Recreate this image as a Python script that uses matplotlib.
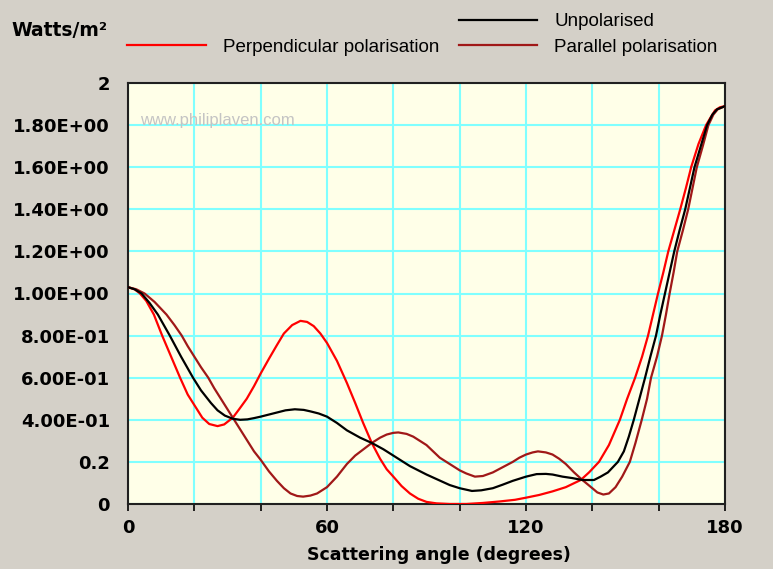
import matplotlib
matplotlib.use("Agg")
import matplotlib.pyplot as plt
from matplotlib.lines import Line2D

# ---- data ----
perp_angle = [0, 2, 3.6, 5.5, 7.8, 10.3, 13, 15.7, 18, 20, 22.4, 24.5, 27, 29, 31.6, 33.5, 35.8,
              38, 40, 42.5, 44.9, 47, 49.5, 52, 54, 56, 58, 60, 63, 66, 68.5, 70.9, 73.5, 76,
              78, 80, 82.5, 85, 87.5, 90, 93, 97, 102, 107, 112, 116.7, 120, 124, 128, 132,
              136.5, 139, 142, 145, 148.3, 150.5, 152.9, 155, 156.8, 158.3, 159.8, 161.4,
              162.9, 164.7, 166.5, 168.2, 169.8, 172, 174.3, 175.8, 177, 178.5, 180]
perp_value = [1.03, 1.02, 1.0, 0.965, 0.9, 0.8, 0.7, 0.6, 0.52, 0.47, 0.41, 0.38, 0.37, 0.378, 0.41, 0.45, 0.5,
              0.56, 0.62, 0.69, 0.755, 0.81, 0.85, 0.87, 0.865, 0.845, 0.81, 0.765, 0.68, 0.575, 0.48, 0.385, 0.29, 0.215,
              0.165, 0.13, 0.085, 0.05, 0.025, 0.01, 0.003, 0.0, 0.0, 0.005, 0.012, 0.02, 0.03, 0.043, 0.06, 0.08,
              0.114, 0.15, 0.2, 0.28, 0.4, 0.5, 0.6, 0.7, 0.8, 0.9, 1.0, 1.1,
              1.2, 1.3, 1.4, 1.5, 1.6, 1.71, 1.8, 1.84, 1.87, 1.885, 1.89]

par_angle = [0, 2.5, 5, 8, 11.6, 14, 16.2, 18, 20, 22, 24.2, 26, 28, 30, 31.6, 34, 36, 38, 40,
             42.5, 44.9, 47, 49, 51, 52.8, 55, 57, 60, 63, 66, 68.5, 71, 73.5, 76, 78, 80, 81.5,
             84, 86, 88, 90, 92, 94, 97, 100, 102, 104.6, 107, 110, 113, 116, 118, 120, 122,
             123.6, 126, 128, 130, 132, 134.5, 137, 140, 141.5, 143.3, 145, 147, 149, 151.3,
             153, 154.9, 156.5, 157.7, 159.5, 161, 162.2, 163.3, 164.5, 165.6, 167.3, 168.9,
             170.2, 171.5, 173.3, 175, 176.5, 177.8, 180]
par_value = [1.03, 1.02, 1.0, 0.96, 0.9, 0.85, 0.8, 0.75, 0.70, 0.65, 0.6, 0.55, 0.50, 0.45, 0.41, 0.35, 0.30, 0.25, 0.21,
             0.155, 0.11, 0.075, 0.05, 0.038, 0.035, 0.04, 0.05, 0.08, 0.13, 0.19, 0.23, 0.26, 0.29, 0.315, 0.33, 0.338, 0.34,
             0.333, 0.32, 0.30, 0.28, 0.25, 0.22, 0.19, 0.16, 0.145, 0.13, 0.133, 0.15, 0.175, 0.20, 0.22, 0.235, 0.245,
             0.25, 0.245, 0.235, 0.215, 0.19, 0.15, 0.114, 0.075, 0.055, 0.045, 0.05, 0.08, 0.13, 0.2,
             0.29, 0.4, 0.5, 0.6, 0.7, 0.8, 0.9, 1.0, 1.1, 1.2, 1.3, 1.4,
             1.5, 1.6, 1.7, 1.8, 1.85, 1.875, 1.89]

unpol_angle = [0, 2, 4.1, 6.5, 9, 10.8, 12.6, 14.3, 16, 17.8, 19.6, 22, 25, 27, 29.2, 31.6, 33.8, 36,
               38, 40, 42.5, 45, 47.5, 50.3, 53, 55, 57.5, 60, 63, 66, 70, 73.5, 77, 80, 82.5, 85,
               87.5, 90, 93.5, 97, 100, 103.7, 106.5, 110, 113, 116, 118, 120, 123.2, 126, 128, 131,
               134, 137, 140.5, 142.5, 144.7, 146.2, 147.7, 149.5, 151, 152.5, 154.2, 155.9, 157.5,
               159.2, 160.5, 161.9, 163.3, 164.7, 166.3, 168, 169.4, 170.8, 172.7, 174.6, 176.2, 177.6, 180]
unpol_value = [1.03, 1.02, 1.0, 0.955, 0.9, 0.85, 0.8, 0.75, 0.7, 0.65, 0.6, 0.54, 0.48, 0.445, 0.42, 0.405, 0.40, 0.402,
               0.408, 0.415, 0.425, 0.435, 0.445, 0.45, 0.447, 0.44, 0.43, 0.415, 0.385, 0.35, 0.315, 0.29, 0.26, 0.23, 0.205, 0.18,
               0.16, 0.14, 0.115, 0.09, 0.075, 0.062, 0.065, 0.075, 0.092, 0.11, 0.12, 0.13, 0.142, 0.143, 0.14, 0.13,
               0.123, 0.114, 0.114, 0.13, 0.15, 0.175, 0.2, 0.25, 0.32, 0.4, 0.5, 0.6, 0.7,
               0.8, 0.9, 1.0, 1.1, 1.2, 1.3, 1.4, 1.5, 1.6, 1.7, 1.8, 1.85, 1.875, 1.89]

x_ticks = [0, 20, 40, 60, 80, 100, 120, 140, 160, 180]
x_tick_labels = ["0", "", "", "60", "", "", "120", "", "", "180"]
y_ticks = [0, 0.2, 0.4, 0.6, 0.8, 1.0, 1.2, 1.4, 1.6, 1.8, 2.0]
y_tick_labels = ["0", "0.2", "4.00E-01", "6.00E-01", "8.00E-01", "1.00E+00",
                 "1.20E+00", "1.40E+00", "1.60E+00", "1.80E+00", "2"]

BG = "#d4d0c8"
PLOT_BG = "#ffffe8"
GRID = "#80ffff"
RED = "#ff0000"
DARKRED = "#a01818"

fig = plt.figure(figsize=(7.73, 5.69), dpi=100, facecolor=BG)
ax = fig.add_axes([128 / 773, 1 - 504 / 569, (725 - 128) / 773, (504 - 83) / 569])
ax.set_facecolor(PLOT_BG)

ax.set_xlim(0, 180)
ax.set_ylim(0, 2)
ax.set_xticks(x_ticks)
ax.set_xticklabels(x_tick_labels)
ax.set_yticks(y_ticks)
ax.set_yticklabels(y_tick_labels)
ax.grid(True, color=GRID, linewidth=1.5)
ax.set_axisbelow(True)

for lab in ax.get_xticklabels() + ax.get_yticklabels():
    lab.set_fontfamily("DejaVu Sans")
    lab.set_fontweight("bold")
    lab.set_fontsize(13)
ax.tick_params(axis="y", length=0, pad=13)
ax.tick_params(axis="x", length=5, width=1.2, direction="out", pad=6, colors="black")
for s in ax.spines.values():
    s.set_color("#202020")
    s.set_linewidth(1.5)

line_kw = dict(lw=1.6, solid_joinstyle="round", solid_capstyle="round")
ax.plot(perp_angle, perp_value, color=RED, zorder=3, **line_kw)
ax.plot(par_angle, par_value, color=DARKRED, zorder=3, **line_kw)
ax.plot(unpol_angle, unpol_value, color="black", zorder=4, **line_kw)

ax.set_xlabel("Scattering angle (degrees)", family="DejaVu Sans", weight="bold",
              size=12.5, labelpad=0)
ax.xaxis.set_label_coords(0.52, -0.099)

ax.text(0.02, 0.912, "www.philiplaven.com", transform=ax.transAxes, color="#c4c4c4",
        fontsize=12, family="Liberation Sans", va="center", ha="left", zorder=2)

fig.text(11 / 773, 1 - 31 / 569, "Watts/m²", family="DejaVu Sans", weight="bold",
         size=13.5, va="center", ha="left")

handles = [Line2D([], [], color="none"),
           Line2D([], [], color=RED, lw=1.6),
           Line2D([], [], color="black", lw=1.6),
           Line2D([], [], color=DARKRED, lw=1.6)]
labels = ["", "Perpendicular polarisation", "Unpolarised", "Parallel polarisation"]
fig.legend(handles, labels, ncol=2, loc="upper left",
           bbox_to_anchor=(127 / 773, 1 - 13 / 569),
           frameon=False, borderpad=0, borderaxespad=0,
           prop=dict(family="Liberation Sans", size=13.5),
           handlelength=4.2, handletextpad=0.9, columnspacing=1.05,
           labelspacing=0.45)

fig.savefig("out.png", dpi=100, facecolor=BG)
